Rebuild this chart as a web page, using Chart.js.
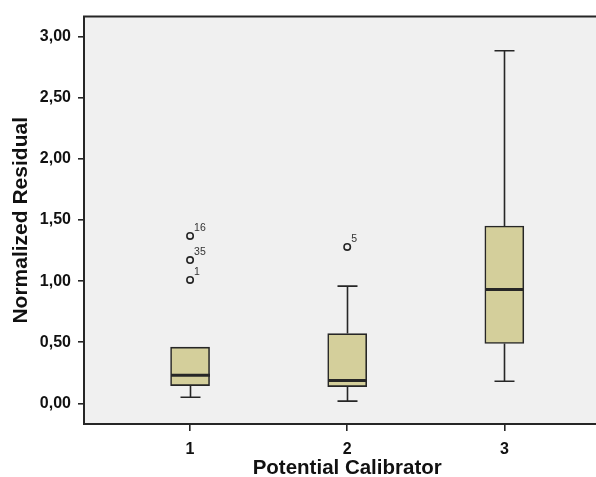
<!DOCTYPE html>
<html><head><meta charset="utf-8">
<script src="https://cdn.jsdelivr.net/npm/chart.js@4/dist/chart.umd.min.js"></script>
<style>html,body{margin:0;padding:0;background:#fff;overflow:hidden;width:596px;height:477px}</style>
</head><body>
<canvas id="c" width="616" height="477"></canvas>
<script>
// ---- data ----
const categories = [1, 2, 3];
const categoryLabels = ['1', '2', '3'];
const whiskerLow = [0.051, 0.019, 0.181];
const q1 = [0.146, 0.138, 0.490];
const medians = [0.230, 0.187, 0.931];
const q3 = [0.460, 0.571, 1.451];
const whiskerHigh = [0.460, 0.959, 2.884];
const outlierCategory = [1, 1, 1, 2];
const outlierValues = [1.370, 1.172, 1.010, 1.280];
const outlierIds = ['16', '35', '1', '5'];
const yTicks = [0, 0.5, 1, 1.5, 2, 2.5, 3];
const yTickLabels = ['0,00', '0,50', '1,00', '1,50', '2,00', '2,50', '3,00'];
const xTitle = 'Potential Calibrator';
const yTitle = 'Normalized Residual';

const INK = '#262626';
const FONT = "'Liberation Sans', Arial, sans-serif";

const boxExtras = {
  id: 'boxExtras',
  beforeDraw(chart) {
    const {ctx, chartArea: a} = chart;
    ctx.save();
    ctx.fillStyle = '#f0f0f0';
    ctx.fillRect(a.left, a.top, a.right - a.left, a.bottom - a.top);
    ctx.restore();
  },
  afterDatasetsDraw(chart) {
    const {ctx} = chart;
    const xs = chart.scales.x, ys = chart.scales.y;
    const bars = chart.getDatasetMeta(0).data;
    ctx.save();
    ctx.strokeStyle = INK;
    categories.forEach((c, i) => {
      const px = Math.round(xs.getPixelForValue(c)) + 0.5;
      const capHalf = 10;
      ctx.lineWidth = 1.6;
      ctx.beginPath();
      const yl = ys.getPixelForValue(whiskerLow[i]);
      ctx.moveTo(px, ys.getPixelForValue(q1[i]));
      ctx.lineTo(px, yl);
      ctx.moveTo(px - capHalf, yl);
      ctx.lineTo(px + capHalf, yl);
      if (whiskerHigh[i] > q3[i]) {
        const yh = ys.getPixelForValue(whiskerHigh[i]);
        ctx.moveTo(px, ys.getPixelForValue(q3[i]));
        ctx.lineTo(px, yh);
        ctx.moveTo(px - capHalf, yh);
        ctx.lineTo(px + capHalf, yh);
      }
      ctx.stroke();
      const half = bars[i].width / 2;
      const ym = ys.getPixelForValue(medians[i]);
      ctx.lineWidth = 3;
      ctx.beginPath();
      ctx.moveTo(px - half, ym);
      ctx.lineTo(px + half, ym);
      ctx.stroke();
    });
    ctx.fillStyle = '#333';
    ctx.font = '10.5px ' + FONT;
    ctx.textAlign = 'left';
    ctx.textBaseline = 'alphabetic';
    outlierValues.forEach((v, i) => {
      ctx.fillText(outlierIds[i], xs.getPixelForValue(outlierCategory[i]) + 4, ys.getPixelForValue(v) - 5);
    });
    ctx.restore();
  },
  afterDraw(chart) {
    const {ctx, chartArea: a} = chart;
    ctx.save();
    ctx.strokeStyle = INK;
    ctx.lineWidth = 2;
    ctx.beginPath();
    ctx.moveTo(a.left - 1, a.top);
    ctx.lineTo(a.right, a.top);
    ctx.stroke();
    ctx.restore();
  }
};

new Chart(document.getElementById('c'), {
  type: 'bar',
  data: {
    datasets: [
      {
        type: 'bar',
        data: categories.map((c, i) => ({x: c, y: [q1[i], q3[i]]})),
        backgroundColor: '#d4cf9b',
        borderColor: INK,
        borderWidth: 1.6,
        borderSkipped: false,
        barThickness: 39
      },
      {
        type: 'scatter',
        data: outlierValues.map((v, i) => ({x: outlierCategory[i], y: v})),
        pointStyle: 'circle',
        pointRadius: 3.2,
        pointBorderWidth: 1.6,
        borderColor: INK,
        backgroundColor: '#f0f0f0'
      }
    ]
  },
  options: {
    responsive: false,
    animation: false,
    devicePixelRatio: 1,
    layout: {padding: {top: 13, right: 0, left: 0, bottom: 0}},
    plugins: {legend: {display: false}, tooltip: {enabled: false}},
    scales: {
      x: {
        type: 'linear',
        offset: false,
        min: 0.325,
        max: 3.675,
        afterBuildTicks(s) { s.ticks = categories.map(v => ({value: v})); },
        afterFit(s) { s.height = 53; s.paddingLeft = 0; s.paddingRight = 0; },
        grid: {offset: false, drawOnChartArea: false, drawTicks: true, tickLength: 7, color: INK, lineWidth: 1.6},
        border: {display: true, color: INK, width: 2},
        ticks: {
          padding: 9,
          color: '#111',
          font: {family: FONT, size: 16, weight: 'bold'},
          callback: (v, i) => categoryLabels[i]
        },
        title: {
          display: true, text: xTitle, color: '#111',
          font: {family: FONT, size: 20.5, weight: 'bold', lineHeight: 0.8},
          padding: {top: 0, bottom: 0}
        }
      },
      y: {
        type: 'linear',
        min: -0.168,
        max: 3.163,
        afterBuildTicks(s) { s.ticks = yTicks.map(v => ({value: v})); },
        afterFit(s) { s.width = 84; },
        grid: {drawOnChartArea: false, drawTicks: true, tickLength: 6, color: INK, lineWidth: 1.6},
        border: {display: true, color: INK, width: 2},
        ticks: {
          padding: 7,
          color: '#111',
          font: {family: FONT, size: 16, weight: 'bold'},
          callback: (v, i) => yTickLabels[i]
        },
        title: {
          display: true, text: yTitle, color: '#111',
          font: {family: FONT, size: 21, weight: 'bold', lineHeight: 1.2},
          padding: {top: 9, bottom: 0}
        }
      }
    }
  },
  plugins: [boxExtras]
});
</script>
</body></html>
